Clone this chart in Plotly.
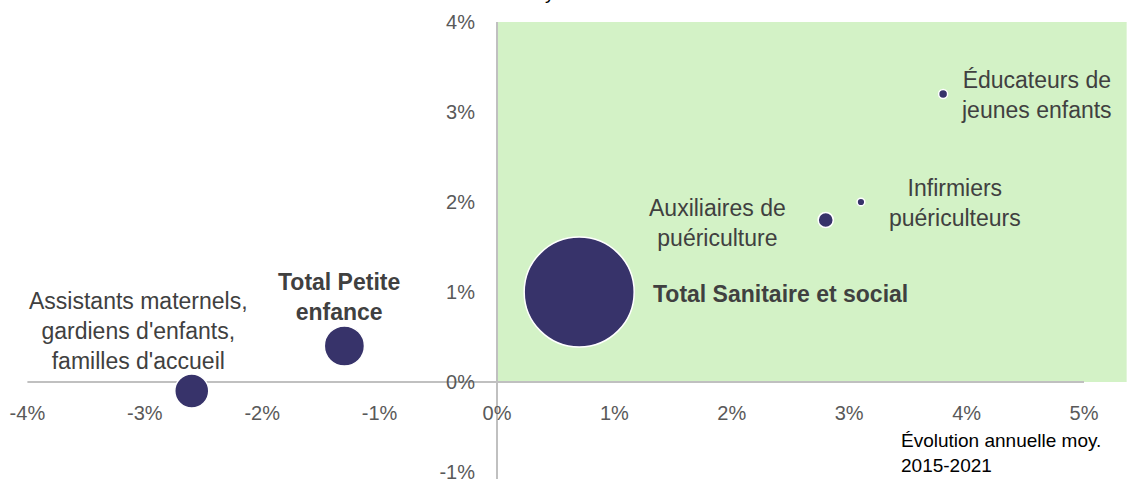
import plotly.graph_objects as go

# ---- data ----
metiers = [
    "Total Sanitaire et social",
    "Total Petite enfance",
    "Assistants maternels, gardiens d'enfants, familles d'accueil",
    "Auxiliaires de puériculture",
    "Infirmiers puériculteurs",
    "Éducateurs de jeunes enfants",
]
evol_effectifs = [0.7, -1.3, -2.6, 2.8, 3.1, 3.8]      # x, % annual
evol_autre = [1.0, 0.4, -0.1, 1.8, 2.0, 3.2]            # y, % annual
effectifs = [4500, 600, 430, 85, 22, 30]                # bubble size (milliers)

x_ticks = [-4, -3, -2, -1, 0, 1, 2, 3, 4, 5]
x_tick_labels = ["-4%", "-3%", "-2%", "-1%", "0%", "1%", "2%", "3%", "4%", "5%"]
y_ticks = [-1, 0, 1, 2, 3, 4]
y_tick_labels = ["-1%", "0%", "1%", "2%", "3%", "4%"]

W, H = 1129, 479
PPX, PPY = 117.4, 90.0       # pixels per 1 %
X0PX, Y0PX = 497, 382
XMIN = -X0PX / PPX
XMAX = XMIN + W / PPX
YMAX = Y0PX / PPY
YMIN = YMAX - H / PPY

FONT = "Liberation Sans, Arial, sans-serif"
BUBBLE = "#37336a"

def px_x(px):
    return px / W

def px_y(py):
    return 1 - py / H

fig = go.Figure()

fig.add_trace(go.Scatter(
    x=evol_effectifs, y=evol_autre, mode="markers",
    text=metiers, hoverinfo="text",
    marker=dict(size=effectifs, sizemode="area", sizeref=2 * 4500 / 110 ** 2,
                color=BUBBLE, opacity=1, line=dict(color="white", width=1.5)),
    showlegend=False, cliponaxis=False,
))

shapes = [
    dict(type="rect", xref="x", yref="y", x0=0, x1=XMAX - 0.02, y0=0, y1=4,
         fillcolor="#d3f2c6", line=dict(width=0), layer="below"),
    dict(type="line", xref="x", yref="y", x0=-4, x1=5, y0=0, y1=0,
         line=dict(color="#c0c0c0", width=2), layer="below"),
    dict(type="line", xref="x", yref="y", x0=0, x1=0, y0=YMIN, y1=4,
         line=dict(color="#c0c0c0", width=2), layer="below"),
]

lab_font = dict(family=FONT, size=23, color="#404040")
annotations = [
    dict(x=px_x(1036), y=px_y(95), text="Éducateurs de<br>jeunes enfants", align="center"),
    dict(x=px_x(955), y=px_y(203), text="Infirmiers<br>puériculteurs", align="center"),
    dict(x=px_x(717), y=px_y(223), text="Auxiliaires de<br>puériculture", align="center"),
    dict(x=px_x(651), y=px_y(294), text="<b>Total Sanitaire et social</b>", xanchor="left", align="left"),
    dict(x=px_x(339), y=px_y(297), text="<b>Total Petite<br>enfance</b>", align="center"),
    dict(x=px_x(138), y=px_y(331), text="Assistants maternels,<br>gardiens d'enfants,<br>familles d'accueil", align="center"),
]
for a in annotations:
    a.update(xref="paper", yref="paper", showarrow=False, font=lab_font)
    a.setdefault("xanchor", "center")
    a.setdefault("yanchor", "middle")

annotations.append(dict(
    x=px_x(899), y=px_y(453), xref="paper", yref="paper", showarrow=False,
    text="Évolution annuelle moy.<br>2015-2021", xanchor="left", yanchor="middle", align="left",
    font=dict(family=FONT, size=19, color="#000000")))
annotations.append(dict(
    x=px_x(560), y=px_y(-7), xref="paper", yref="paper", showarrow=False,
    text="Évolution annuelle moy.", xanchor="right", yanchor="middle", align="right",
    font=dict(family=FONT, size=19, color="#000000")))

fig.update_layout(
    width=W, height=H,
    margin=dict(l=0, r=0, t=0, b=0),
    paper_bgcolor="white", plot_bgcolor="white",
    shapes=shapes, annotations=annotations,
    xaxis=dict(range=[XMIN, XMAX], domain=[0, 1], anchor="free", position=px_y(382),
               showgrid=False, zeroline=False, showline=False, ticks="",
               tickmode="array", tickvals=x_ticks, ticktext=x_tick_labels,
               tickfont=dict(family=FONT, size=20, color="#595959"),
               ticklabelstandoff=17, ticklabeloverflow="allow", automargin=False),
    yaxis=dict(range=[YMIN, YMAX], domain=[0, 1], anchor="free", position=px_x(497),
               showgrid=False, zeroline=False, showline=False, ticks="",
               tickmode="array", tickvals=y_ticks, ticktext=y_tick_labels,
               tickfont=dict(family=FONT, size=20, color="#595959"),
               ticklabelstandoff=22, ticklabeloverflow="allow", automargin=False),
)

fig.write_html("out.html", config={"displayModeBar": False},
               post_script="document.body.style.margin='0';document.body.style.overflow='hidden';")
